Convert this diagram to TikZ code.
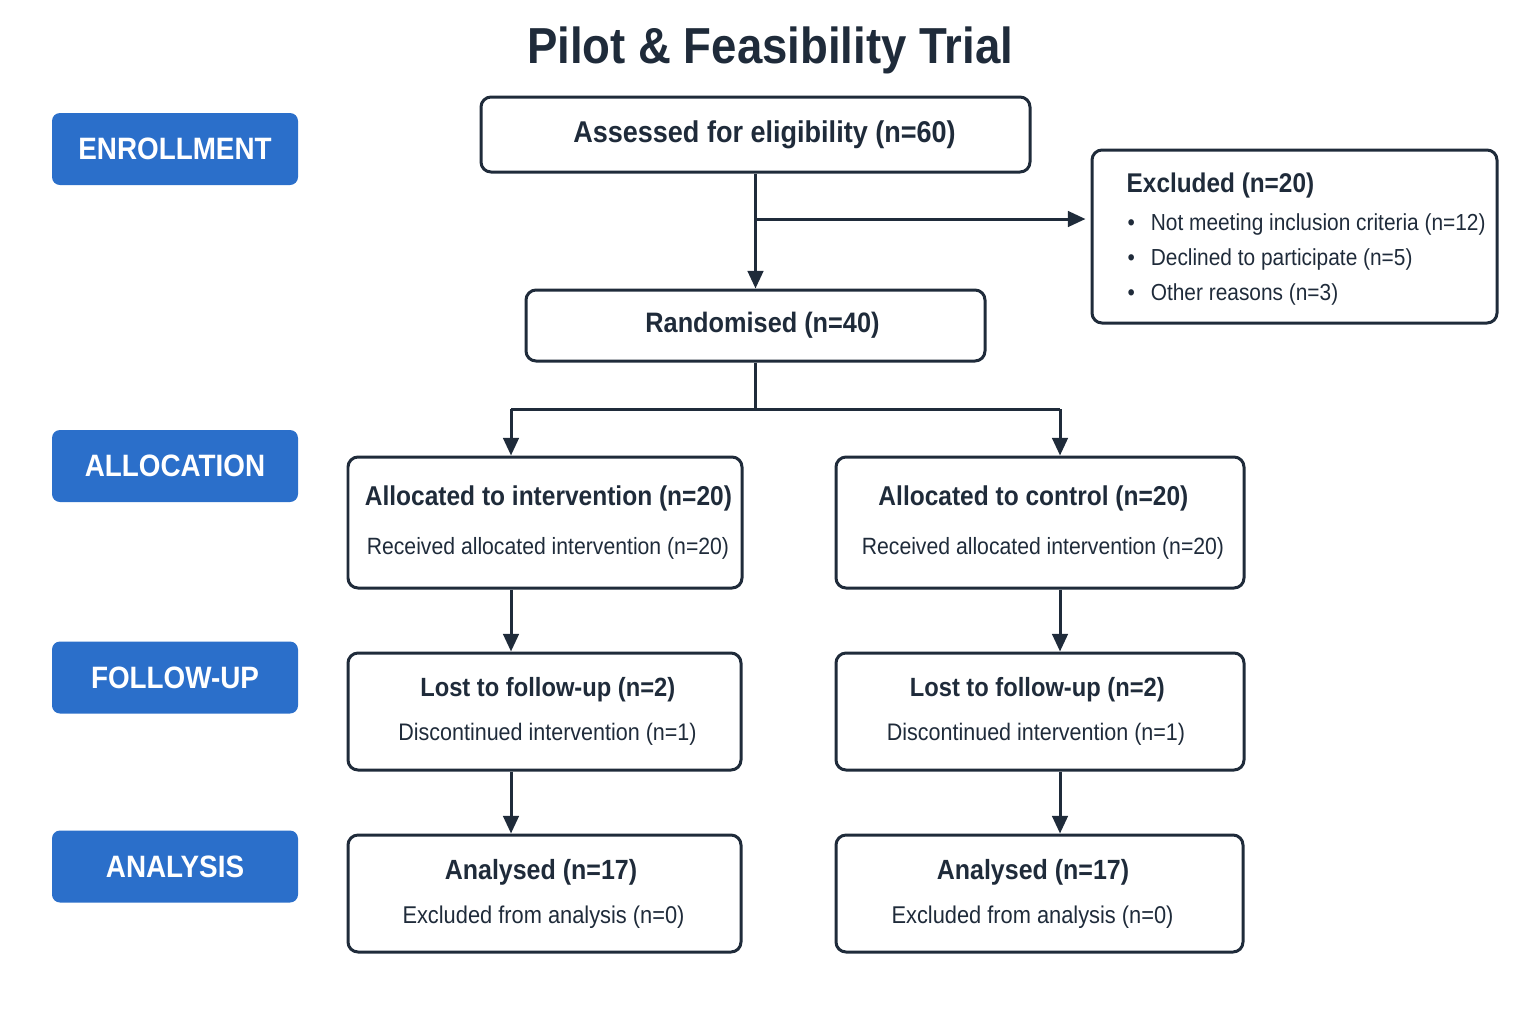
\documentclass[tikz,border=0pt]{standalone}
\usepackage{fontspec}
\setmainfont[FakeStretch=0.9]{Liberation Sans}
\usetikzlibrary{arrows.meta}
\definecolor{navy}{HTML}{1F2B3A}
\definecolor{stageblue}{HTML}{2B6FCA}
\tikzset{
  stage/.style={fill=stageblue, rounded corners=0.08cm, text=white, font=\bfseries\fontsize{8.8pt}{10pt}\selectfont,
    minimum width=2.46cm, minimum height=0.72cm, inner sep=0pt},
  box/.style={draw=navy, line width=0.85pt, rounded corners=0.1cm, text=navy, align=center, inner sep=0pt},
  arr/.style={draw=navy, line width=0.85pt, -{Triangle[length=5pt,width=4.4pt]}},
  link/.style={draw=navy, line width=0.85pt},
  bullet/.style={text=navy, anchor=base west, inner sep=0pt, font=\fontsize{6.6pt}{8pt}\selectfont},
}
\newcommand{\hfont}[1]{\bfseries\fontsize{#1}{10pt}\selectfont}
\newcommand{\sfont}[1]{\mdseries\fontsize{#1}{10pt}\selectfont}
\begin{document}
\begin{tikzpicture}
  \useasboundingbox (0,0) rectangle (15.36,-10.24);

  % title
  \node[text=navy, font=\bfseries\fontsize{14.4pt}{16pt}\selectfont] (title) at (7.70,-0.50) {Pilot \& Feasibility Trial};

  % stage labels
  \node[stage] (enrol) at (1.75,-1.49) {ENROLLMENT};
  \node[stage] (alloc) at (1.75,-4.66) {ALLOCATION};
  \node[stage] (follow) at (1.75,-6.775) {FOLLOW-UP};
  \node[stage] (analy) at (1.75,-8.665) {ANALYSIS};

  % enrollment
  \node[box, minimum width=5.49cm, minimum height=0.75cm] (assess) at (7.555,-1.345) {\hfont{8.55pt}\hspace*{0.18cm}Assessed for eligibility (n=60)};
  \node[box, minimum width=4.05cm, minimum height=1.73cm] (excl) at (12.945,-2.365) {};
  \node[text=navy, anchor=base west, inner sep=0pt, font=\bfseries\fontsize{7.7pt}{9pt}\selectfont] (excltitle) at (11.26,-1.92) {Excluded (n=20)};
  \node[bullet] (excla) at (11.27,-2.30) {\textbullet\hspace{4.5pt}Not meeting inclusion criteria (n=12)};
  \node[bullet] (exclb) at (11.27,-2.65) {\textbullet\hspace{4.5pt}Declined to participate (n=5)};
  \node[bullet] (exclc) at (11.27,-3.00) {\textbullet\hspace{4.5pt}Other reasons (n=3)};
  \node[box, minimum width=4.59cm, minimum height=0.71cm] (rand) at (7.555,-3.255) {\hfont{8pt}\hspace*{0.14cm}Randomised (n=40)};

  % allocation
  \node[box, minimum width=3.94cm, minimum height=1.31cm] (alloci) at (5.45,-5.225)
    {\hfont{7.75pt} Allocated to intervention (n=20)\\[2pt]\sfont{6.7pt} Received allocated intervention (n=20)};
  \node[box, minimum width=4.08cm, minimum height=1.31cm] (allocc) at (10.40,-5.225)
    {\hfont{7.75pt} Allocated to control (n=20)\hspace*{0.2cm}\\[2pt]\sfont{6.7pt} Received allocated intervention (n=20)};

  % follow-up
  \node[box, minimum width=3.93cm, minimum height=1.17cm] (losti) at (5.445,-7.115)
    {\hfont{7.5pt} Lost to follow-up (n=2)\\[0.5pt]\sfont{6.8pt} Discontinued intervention (n=1)};
  \node[box, minimum width=4.08cm, minimum height=1.17cm] (lostc) at (10.40,-7.115)
    {\hfont{7.5pt} Lost to follow-up (n=2)\hspace*{0.12cm}\\[0.5pt]\sfont{6.8pt} Discontinued intervention (n=1)\hspace*{0.14cm}};

  % analysis
  \node[box, minimum width=3.93cm, minimum height=1.17cm] (anali) at (5.445,-8.935)
    {\hfont{7.9pt} Analysed (n=17)\hspace*{0.14cm}\\[0.5pt]\sfont{6.9pt} Excluded from analysis (n=0)\hspace*{0.08cm}};
  \node[box, minimum width=4.07cm, minimum height=1.17cm] (analc) at (10.395,-8.935)
    {\hfont{7.9pt} Analysed (n=17)\hspace*{0.2cm}\\[0.5pt]\sfont{6.9pt} Excluded from analysis (n=0)\hspace*{0.2cm}};

  % connectors
  \coordinate (split) at (7.555,-2.19);
  \coordinate (fork) at (7.555,-4.09);
  \coordinate (lcol) at (5.11,-4.09);
  \coordinate (rcol) at (10.60,-4.09);
  \draw[arr] (assess.south) -- (rand.north);
  \draw[arr, shorten >=0.05cm] (split) -- (split -| excl.west);
  \draw[link] (rand.south) -- (fork);
  \draw[link] (lcol) -- (rcol);
  \draw[arr] (lcol) -- (lcol |- alloci.north);
  \draw[arr] (rcol) -- (rcol |- allocc.north);
  \draw[arr] (lcol |- alloci.south) -- (lcol |- losti.north);
  \draw[arr] (rcol |- allocc.south) -- (rcol |- lostc.north);
  \draw[arr] (lcol |- losti.south) -- (lcol |- anali.north);
  \draw[arr] (rcol |- lostc.south) -- (rcol |- analc.north);
\end{tikzpicture}
\end{document}
